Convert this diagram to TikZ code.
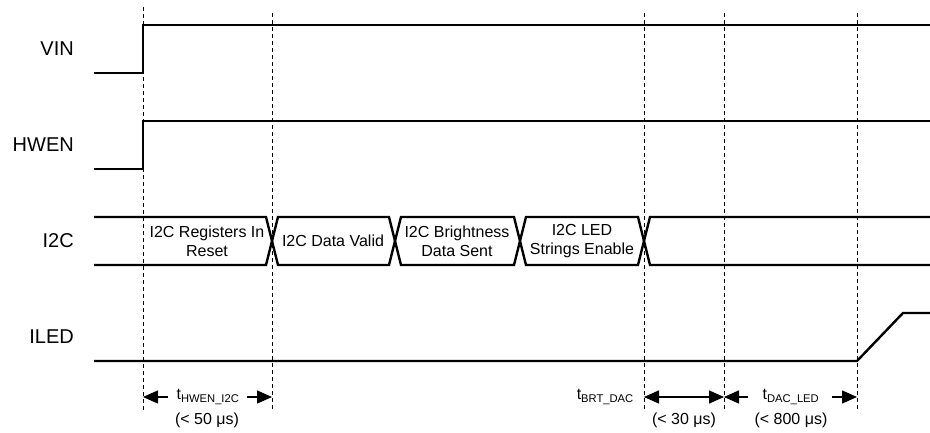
\documentclass[tikz,border=0pt]{standalone}
\usepackage{fontspec}
\setmainfont{Liberation Sans}
\usetikzlibrary{arrows.meta}
\begin{document}
\begin{tikzpicture}[x=1pt,y=-1pt,
  sig/.style={line width=2.4pt, line join=miter},
  guide/.style={line width=0.9pt, dash pattern=on 4pt off 3pt},
  siglabel/.style={anchor=east, inner sep=0pt, font=\fontsize{20}{24}\selectfont},
  boxlabel/.style={align=center, inner sep=0pt, font=\fontsize{16}{19}\selectfont},
  timelabel/.style={inner sep=0pt, font=\fontsize{16}{19}\selectfont},
  dim/.style={line width=1.4pt, -{Triangle[length=15pt,width=13pt]}},
  dimboth/.style={line width=1.4pt, {Triangle[length=15pt,width=13pt]}-{Triangle[length=15pt,width=13pt]}}]
\useasboundingbox (0,0) rectangle (930,432);

% signal labels
\node[siglabel] (lvin)  at (74,49)  {VIN};
\node[siglabel] (lhwen) at (74,145) {HWEN};
\node[siglabel] (li2c)  at (74,241) {I2C};
\node[siglabel] (liled) at (74,337) {ILED};

% guide lines
\draw[guide] (143,7) -- (143,410);
\foreach \gx in {272,644,724,857} \draw[guide] (\gx,13) -- (\gx,410);

% waveforms
\draw[sig] (94,73) -- (143,73) -- (143,25) -- (930,25);
\draw[sig] (94,169) -- (143,169) -- (143,121) -- (930,121);
\draw[sig] (94,217) -- (266,217) -- (278,265) -- (389,265) -- (401,217) -- (514,217) -- (526,265) -- (638,265) -- (650,217) -- (930,217);
\draw[sig] (94,265) -- (266,265) -- (278,217) -- (389,217) -- (401,265) -- (514,265) -- (526,217) -- (638,217) -- (650,265) -- (930,265);
\draw[sig] (94,361) -- (857,361) -- (903,313) -- (930,313);

% bus labels
\node[boxlabel] (b1) at (207,241) {I2C Registers In\\Reset};
\node[boxlabel] (b2) at (333,241) {I2C Data Valid};
\node[boxlabel] (b3) at (457,241) {I2C Brightness\\Data Sent};
\node[boxlabel] (b4) at (582,241) {I2C LED\\Strings Enable};

% timing annotations
\node[timelabel] (t1) at (208,397) {t\textsubscript{HWEN\_I2C}};
\node[timelabel] (p1) at (207,420) {(< 50 μs)};
\coordinate (t1l) at (168,397);
\coordinate (t1a) at (143,397);
\coordinate (t1r) at (247,397);
\coordinate (t1b) at (272,397);
\draw[dim] (t1l) -- (t1a);
\draw[dim] (t1r) -- (t1b);

\node[timelabel, anchor=east] (t2) at (634,397) {t\textsubscript{BRT\_DAC}};
\node[timelabel] (p2) at (684,420) {(< 30 μs)};
\coordinate (t2a) at (644,397);
\coordinate (t2b) at (724,397);
\draw[dimboth] (t2a) -- (t2b);

\node[timelabel] (t3) at (791,397) {t\textsubscript{DAC\_LED}};
\node[timelabel] (p3) at (791,420) {(< 800 μs)};
\coordinate (t3l) at (748,397);
\coordinate (t3a) at (724,397);
\coordinate (t3r) at (832,397);
\coordinate (t3b) at (857,397);
\draw[dim] (t3l) -- (t3a);
\draw[dim] (t3r) -- (t3b);
\end{tikzpicture}
\end{document}
